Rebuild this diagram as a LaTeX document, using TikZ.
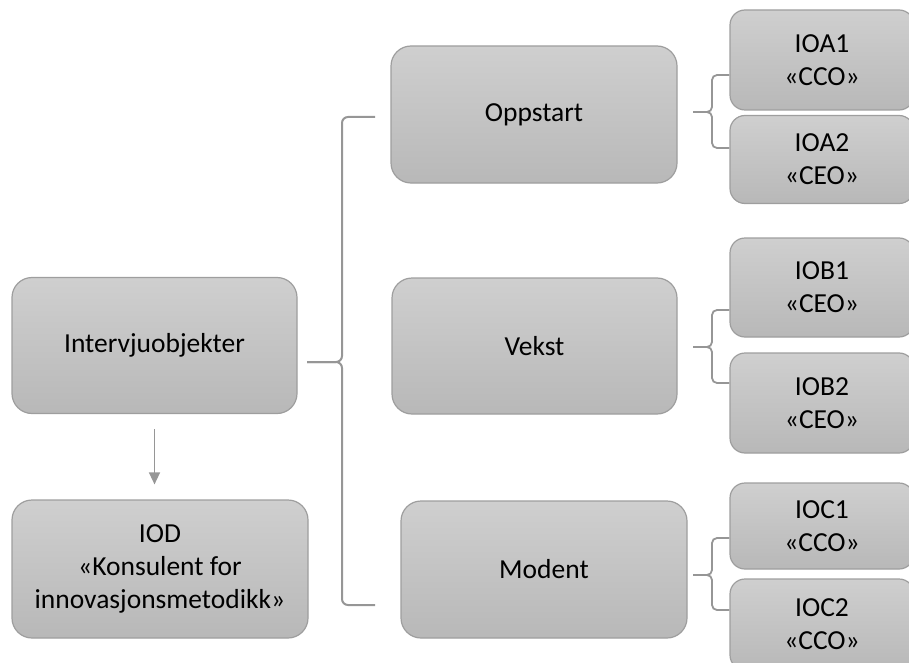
\documentclass[tikz,border=0pt]{standalone}
\usepackage{fontspec}
\setmainfont{Carlito}
\usetikzlibrary{arrows.meta,positioning}
\definecolor{boxtop}{RGB}{207,207,207}
\definecolor{boxbot}{RGB}{184,184,184}
\definecolor{boxline}{RGB}{158,158,158}
\definecolor{connline}{RGB}{150,150,150}
\tikzset{
    box/.style={draw=boxline,line width=1.2pt,rounded corners=20pt,
        top color=boxtop,bottom color=boxbot,align=center,text=black,
        inner sep=0pt,font=\fontsize{27.5}{33}\selectfont},
    leaf/.style={box,rounded corners=15pt,minimum width=184pt},
    conn/.style={draw=connline,line width=2pt,rounded corners=6pt},
    twig/.style={conn,line width=1.8pt,rounded corners=5pt},
    arrow/.style={draw=connline,line width=1.5pt,-{Triangle[width=11pt,length=12pt]},
        shorten <=15pt,shorten >=15pt}
}

\begin{document}
\begin{tikzpicture}[x=1pt,y=-1pt]
    \useasboundingbox (0,0) rectangle (909,663);
    \clip (0,0) rectangle (909,663);
    \node[box,minimum width=285pt,minimum height=136pt] (intervju) at (154.5,345.5) {Intervjuobjekter};
    \node[box,minimum width=296pt,minimum height=138pt] (iod) at (160,569) {IOD\\«Konsulent for\\innovasjonsmetodikk»};
    \node[box,minimum width=286pt,minimum height=137pt] (oppstart) at (534,114.5) {Oppstart};
    \node[box,minimum width=285pt,minimum height=136pt] (vekst) at (534.5,346) {Vekst};
    \node[box,minimum width=286pt,minimum height=137pt] (modent) at (544,569.5) {Modent};
    \node[leaf,minimum height=100pt] (ioa1) at (822,60) {IOA1\\«CCO»};
    \node[leaf,minimum height=88pt] (ioa2) at (822,159.5) {IOA2\\«CEO»};
    \node[leaf,minimum height=99pt] (iob1) at (822,287.5) {IOB1\\«CEO»};
    \node[leaf,minimum height=100pt] (iob2) at (822,403) {IOB2\\«CEO»};
    \node[leaf,minimum height=86pt] (ioc1) at (822,526) {IOC1\\«CCO»};
    \node[leaf,minimum height=91pt] (ioc2) at (822,624.5) {IOC2\\«CCO»};

    \draw[arrow] (intervju.south) -- (intervju.south |- iod.north);

    \coordinate (bmid) at (307,362);
    \coordinate (btop) at (375,117);
    \coordinate (bbot) at (375,605);
    \draw[conn] (bmid) -- (342,362) -- (342,117) -- (btop);
    \draw[conn] (bmid) -- (342,362) -- (342,605) -- (bbot);

    \foreach \lo/\hi/\y/\t/\s in {ioa1/ioa2/112/75/148, iob1/iob2/347/310/383, ioc1/ioc2/575/538/610}{
        \draw[twig] (693,\y) -- (712,\y) -- (712,\t) -- (\lo.west |- 0,\t);
        \draw[twig] (693,\y) -- (712,\y) -- (712,\s) -- (\hi.west |- 0,\s);
    }
\end{tikzpicture}
\end{document}
